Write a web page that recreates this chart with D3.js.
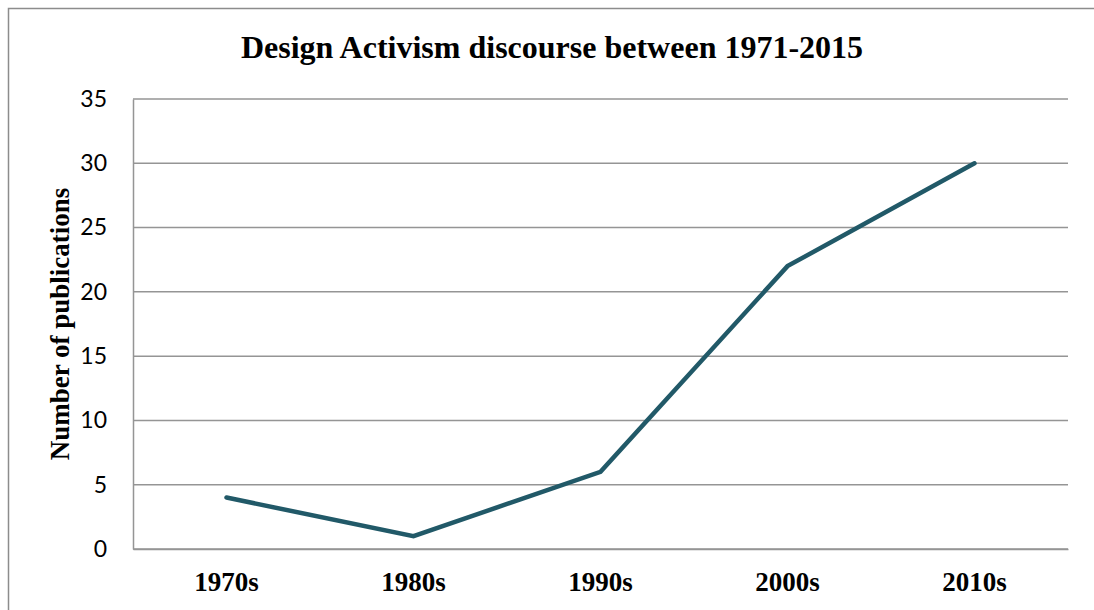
<!DOCTYPE html>
<html>
<head>
<meta charset="utf-8">
<script src="https://cdn.jsdelivr.net/npm/d3@7"></script>
<style>
  html, body { margin: 0; padding: 0; background: #fff; }
  svg { display: block; }
</style>
</head>
<body>
<svg id="chart" width="1094" height="610"></svg>
<script>
// Publications per decade
const decades = ["1970s", "1980s", "1990s", "2000s", "2010s"];
const publications = [4, 1, 6, 22, 30];
const yTicks = [0, 5, 10, 15, 20, 25, 30, 35];

const W = 1094, H = 610;
const margin = { top: 99, right: 26, bottom: 61, left: 133 };
const svg = d3.select("#chart");

// outer frame
svg.append("rect")
  .attr("x", 8.5).attr("y", 8.5)
  .attr("width", W).attr("height", H)
  .attr("fill", "none").attr("stroke", "#8c8c8c").attr("stroke-width", 1.5);

const x = d3.scaleBand().domain(decades).range([margin.left, W - margin.right]);
const y = d3.scaleLinear().domain([0, 35]).range([H - margin.bottom, margin.top]);

// horizontal gridlines
svg.append("g").selectAll("line").data(yTicks).join("line")
  .attr("x1", margin.left).attr("x2", W - margin.right)
  .attr("y1", d => y(d)).attr("y2", d => y(d))
  .attr("stroke", "#959595").attr("stroke-width", 1.5);

// y axis
const yAxis = svg.append("g")
  .attr("transform", `translate(${margin.left},0)`)
  .call(d3.axisLeft(y).tickValues(yTicks).tickSize(0).tickPadding(26));
yAxis.select(".domain").attr("stroke", "#959595").attr("stroke-width", 1.5);
yAxis.selectAll("text")
  .attr("font-family", "Lato, 'Open Sans', sans-serif")
  .attr("font-size", 23).attr("fill", "#000");

// x axis
const xAxis = svg.append("g")
  .attr("transform", `translate(0,${H - margin.bottom})`)
  .call(d3.axisBottom(x).tickSize(0).tickPadding(23));
xAxis.select(".domain").attr("stroke", "#959595").attr("stroke-width", 1.5);
xAxis.selectAll("text")
  .attr("font-family", "'Liberation Serif', 'Times New Roman', serif")
  .attr("font-weight", "bold").attr("font-size", 27).attr("fill", "#000");

// series line
const line = d3.line()
  .x((d, i) => x(decades[i]) + x.bandwidth() / 2)
  .y(d => y(d));
svg.append("path")
  .datum(publications)
  .attr("d", line)
  .attr("fill", "none")
  .attr("stroke", "#215968")
  .attr("stroke-width", 4.5)
  .attr("stroke-linejoin", "miter")
  .attr("stroke-linecap", "round");

// title
svg.append("text")
  .attr("x", 552).attr("y", 58)
  .attr("text-anchor", "middle")
  .attr("font-family", "'Liberation Serif', 'Times New Roman', serif")
  .attr("font-weight", "bold").attr("font-size", 32)
  .text("Design Activism discourse between 1971-2015");

// y axis title
svg.append("text")
  .attr("transform", `translate(69,${(y(0) + y(35)) / 2}) rotate(-90)`)
  .attr("text-anchor", "middle")
  .attr("font-family", "'Liberation Serif', 'Times New Roman', serif")
  .attr("font-weight", "bold").attr("font-size", 27)
  .text("Number of publications");
</script>
</body>
</html>
